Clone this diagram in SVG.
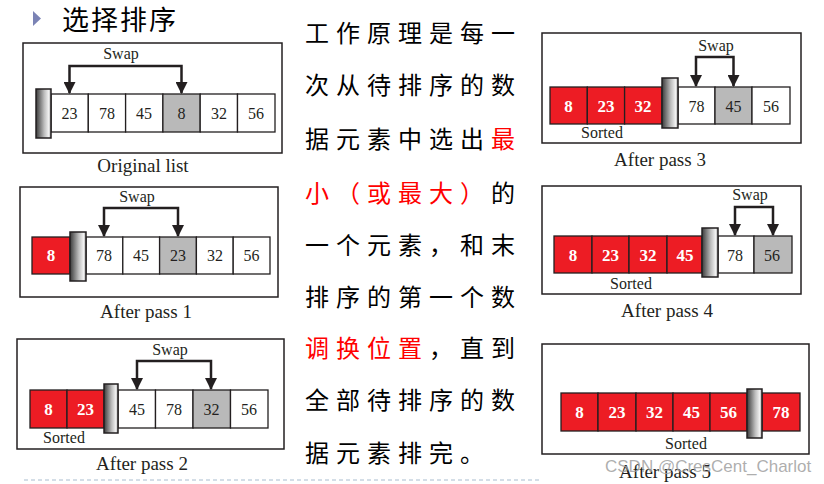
<svg xmlns="http://www.w3.org/2000/svg" width="824" height="484" viewBox="0 0 824 484">
<style>
.frame{fill:#fff;stroke:#231f20;stroke-width:1.5}
.cw{fill:#fff;stroke:#231f20;stroke-width:1.3}
.cg{fill:#b9b9b9;stroke:#231f20;stroke-width:1.3}
.cr{fill:#ed1c24;stroke:#231f20;stroke-width:1.3}
.bar{fill:url(#barg);stroke:#231f20;stroke-width:1.5}
.num{font-family:"Liberation Serif",serif;font-size:16px;fill:#231f20;text-anchor:middle}
.numr{font-family:"Liberation Serif",serif;font-size:17px;font-weight:bold;fill:#fff;text-anchor:middle}
.lbl{font-family:"Liberation Serif",serif;font-size:16px;fill:#231f20;text-anchor:middle}
.cap{font-family:"Liberation Serif",serif;font-size:19px;fill:#231f20;text-anchor:middle}
.swap{fill:none;stroke:#231f20;stroke-width:2.5;marker-start:url(#ahs);marker-end:url(#ah)}
.cn{font-family:"Noto Sans CJK SC",sans-serif;font-size:24px;letter-spacing:7px;fill:#000}
.red{fill:#ff0000}
</style>
<defs>
<linearGradient id="barg" x1="0" y1="0" x2="1" y2="0">
<stop offset="0" stop-color="#3a3a3a"/>
<stop offset="0.55" stop-color="#bdbdbd"/>
<stop offset="0.85" stop-color="#f2f2f2"/>
<stop offset="1" stop-color="#9a9a9a"/>
</linearGradient>
<marker id="ah" markerUnits="userSpaceOnUse" markerWidth="12" markerHeight="12" refX="10" refY="5.5" orient="auto" viewBox="0 0 11 11">
<path d="M0,0 L11,5.5 L0,11 z" fill="#231f20"/>
</marker>
<marker id="ahs" markerUnits="userSpaceOnUse" markerWidth="12" markerHeight="12" refX="10" refY="5.5" orient="auto-start-reverse" viewBox="0 0 11 11">
<path d="M0,0 L11,5.5 L0,11 z" fill="#231f20"/>
</marker>
</defs>
<rect width="824" height="484" fill="#fff"/>

<g id="title">
<polygon points="33,11 41,18.5 33,26" fill="#7b83b5"/>
<text x="62" y="30" font-family="Noto Sans CJK SC, sans-serif" font-size="27" fill="#000" letter-spacing="2">选择排序</text>
</g>

<g id="original">
<rect class="frame" x="23" y="43" width="259" height="110"/>
<rect class="cw" x="51" y="94" width="37.3" height="38"/>
<rect class="cw" x="88.3" y="94" width="37.3" height="38"/>
<rect class="cw" x="125.6" y="94" width="37.3" height="38"/>
<rect class="cg" x="162.9" y="94" width="37.3" height="38"/>
<rect class="cw" x="200.2" y="94" width="37.3" height="38"/>
<rect class="cw" x="237.5" y="94" width="37.5" height="38"/>
<rect class="bar" x="36" y="89" width="15" height="49"/>
<text class="num" x="69.5" y="119">23</text>
<text class="num" x="107" y="119">78</text>
<text class="num" x="144" y="119">45</text>
<text class="num" x="181.5" y="119">8</text>
<text class="num" x="219" y="119">32</text>
<text class="num" x="256" y="119">56</text>
<text class="lbl" x="121" y="59">Swap</text>
<text class="cap" x="143" y="172">Original list</text>
</g>

<g id="pass1">
<rect class="frame" x="20" y="187" width="258" height="110"/>
<rect class="cr" x="32" y="237" width="38" height="37"/>
<rect class="cw" x="86" y="237" width="36.8" height="37"/>
<rect class="cw" x="122.8" y="237" width="36.8" height="37"/>
<rect class="cg" x="159.6" y="237" width="36.8" height="37"/>
<rect class="cw" x="196.4" y="237" width="36.8" height="37"/>
<rect class="cw" x="233.2" y="237" width="36.8" height="37"/>
<rect class="bar" x="70" y="232" width="16" height="49"/>
<text class="numr" x="51" y="261">8</text>
<text class="num" x="104" y="261">78</text>
<text class="num" x="141" y="261">45</text>
<text class="num" x="178" y="261">23</text>
<text class="num" x="215" y="261">32</text>
<text class="num" x="251.5" y="261">56</text>
<text class="lbl" x="137" y="202">Swap</text>
<text class="cap" x="146" y="318">After pass 1</text>
</g>

<g id="pass2">
<rect class="frame" x="17" y="339" width="267" height="110"/>
<rect class="cr" x="30" y="390" width="37" height="38"/>
<rect class="cr" x="67" y="390" width="37" height="38"/>
<rect class="cw" x="118" y="390" width="37.5" height="38"/>
<rect class="cw" x="155.5" y="390" width="37.5" height="38"/>
<rect class="cg" x="193" y="390" width="37.5" height="38"/>
<rect class="cw" x="230.5" y="390" width="37.5" height="38"/>
<rect class="bar" x="104" y="384" width="14" height="49"/>
<text class="numr" x="48.5" y="415">8</text>
<text class="numr" x="85.5" y="415">23</text>
<text class="num" x="137" y="415">45</text>
<text class="num" x="174" y="415">78</text>
<text class="num" x="211.5" y="415">32</text>
<text class="num" x="249" y="415">56</text>
<text class="lbl" x="170" y="355">Swap</text>
<text class="lbl" x="64" y="443">Sorted</text>
<text class="cap" x="142" y="470">After pass 2</text>
</g>

<g id="pass3">
<rect class="frame" x="542" y="33" width="259" height="110"/>
<rect class="cr" x="550" y="87" width="37.3" height="37"/>
<rect class="cr" x="587.3" y="87" width="37.3" height="37"/>
<rect class="cr" x="624.6" y="87" width="37.4" height="37"/>
<rect class="cw" x="678" y="87" width="37" height="37"/>
<rect class="cg" x="715" y="87" width="37" height="37"/>
<rect class="cw" x="752" y="87" width="38" height="37"/>
<rect class="bar" x="662" y="78" width="16" height="50"/>
<text class="numr" x="568.5" y="112">8</text>
<text class="numr" x="606" y="112">23</text>
<text class="numr" x="643" y="112">32</text>
<text class="num" x="696.5" y="112">78</text>
<text class="num" x="733.5" y="112">45</text>
<text class="num" x="771" y="112">56</text>
<text class="lbl" x="716" y="51">Swap</text>
<text class="lbl" x="602" y="138">Sorted</text>
<text class="cap" x="660" y="166">After pass 3</text>
</g>

<g id="pass4">
<rect class="frame" x="542" y="186" width="259" height="108"/>
<rect class="cr" x="554" y="236" width="38" height="37"/>
<rect class="cr" x="592" y="236" width="37" height="37"/>
<rect class="cr" x="629" y="236" width="38" height="37"/>
<rect class="cr" x="667" y="236" width="35" height="37"/>
<rect class="cw" x="718" y="236" width="36" height="37"/>
<rect class="cg" x="754" y="236" width="38" height="37"/>
<rect class="bar" x="702" y="228" width="16" height="49"/>
<text class="numr" x="573" y="261">8</text>
<text class="numr" x="610.5" y="261">23</text>
<text class="numr" x="648" y="261">32</text>
<text class="numr" x="685" y="261">45</text>
<text class="num" x="735" y="261">78</text>
<text class="num" x="772" y="261">56</text>
<text class="lbl" x="750" y="200">Swap</text>
<text class="lbl" x="631" y="289">Sorted</text>
<text class="cap" x="667" y="317">After pass 4</text>
</g>

<g id="pass5">
<rect class="frame" x="542" y="344" width="267" height="110"/>
<rect class="cr" x="561" y="393" width="37" height="38"/>
<rect class="cr" x="598" y="393" width="38" height="38"/>
<rect class="cr" x="636" y="393" width="37" height="38"/>
<rect class="cr" x="673" y="393" width="37" height="38"/>
<rect class="cr" x="710" y="393" width="37" height="38"/>
<rect class="cr" x="762" y="393" width="38" height="38"/>
<rect class="bar" x="747" y="389" width="15" height="49"/>
<text class="numr" x="579.5" y="418">8</text>
<text class="numr" x="617" y="418">23</text>
<text class="numr" x="654.5" y="418">32</text>
<text class="numr" x="691.5" y="418">45</text>
<text class="numr" x="728.5" y="418">56</text>
<text class="numr" x="781" y="418">78</text>
<text class="lbl" x="686" y="449">Sorted</text>
<text class="cap" x="665" y="478">After pass 5</text>
</g>

<g id="connectors">
<path class="swap" d="M69.5,93 V66 H181.5 V93"/>
<path class="swap" d="M104,236 V208 H178 V236"/>
<path class="swap" d="M137,389 V361 H211 V389"/>
<path class="swap" d="M696,86 V57 H733.5 V86"/>
<path class="swap" d="M735,235 V207 H773 V235"/>
</g>

<g id="description">
<text class="cn" x="305" y="42">工作原理是每一</text>
<text class="cn" x="305" y="94">次从待排序的数</text>
<text class="cn" x="305" y="148">据元素中选出<tspan class="red">最</tspan></text>
<text class="cn" x="305" y="202"><tspan class="red">小（或最大）</tspan>的</text>
<text class="cn" x="305" y="254">一个元素，和末</text>
<text class="cn" x="305" y="306">排序的第一个数</text>
<text class="cn" x="305" y="357"><tspan class="red">调换位置</tspan>，直到</text>
<text class="cn" x="305" y="409">全部待排序的数</text>
<text class="cn" x="305" y="462">据元素排完。</text>
</g>

<line x1="24" y1="480" x2="542" y2="480" stroke="#a9bccf" stroke-width="1" stroke-dasharray="4,3"/>
<text x="605" y="472" font-family="Liberation Sans, Arial, sans-serif" font-size="17" fill="#a0a0a0" fill-opacity="0.85">CSDN @CresCent_Charlot</text>
</svg>
